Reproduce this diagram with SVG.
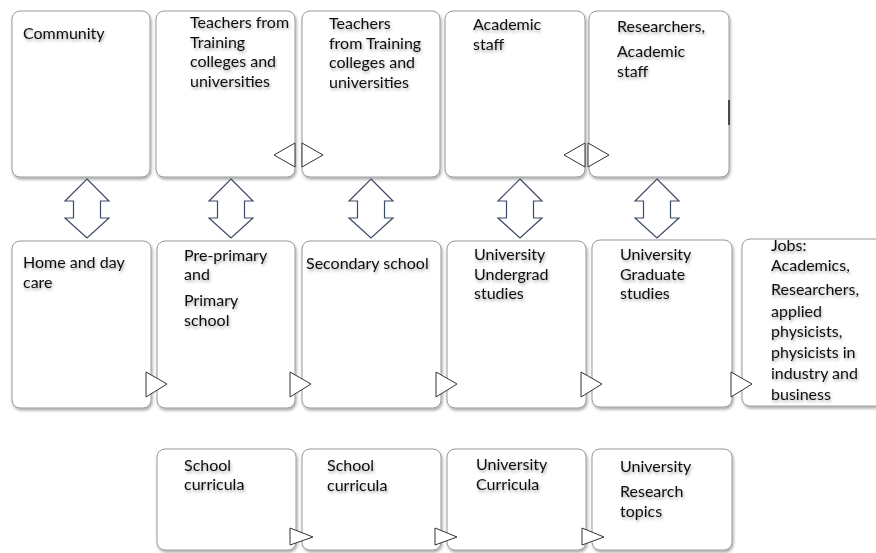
<svg xmlns="http://www.w3.org/2000/svg" width="876" height="553" viewBox="0 0 876 553">
<defs>
<filter id="bs" x="-10%" y="-10%" width="130%" height="130%"><feDropShadow dx="1" dy="2" stdDeviation="1.5" flood-color="#000" flood-opacity="0.35"/></filter>
<filter id="ts" x="-10%" y="-30%" width="130%" height="180%"><feDropShadow dx="1" dy="2" stdDeviation="1.4" flood-color="#000" flood-opacity="0.35"/></filter>
<path id="dbl" d="M0,0 L22,22 L13.5,22 L13.5,39 L22,39 L0,59 L-22,39 L-13.5,39 L-13.5,22 L-22,22 Z"/>
</defs>
<style>
.box{fill:#fff;stroke:#9a9a9a;stroke-width:1;filter:url(#bs)}
text{font-family:Lato,"Open Sans",sans-serif;font-size:16px;fill:#111;filter:url(#ts)}
.dbl{fill:#fff;stroke:#3d4a66;stroke-width:1.2}
.tri{fill:#fff;stroke:#333;stroke-width:1}
</style>
<rect width="876" height="553" fill="#fff"/>
<g id="n-community"><rect class="box" x="12" y="11" width="138" height="166" rx="8"/><text x="23" y="39">Community</text></g>
<g id="n-teachers1"><rect class="box" x="156" y="11" width="139" height="166" rx="8"/><text x="190" y="28">Teachers from</text><text x="190" y="47.5">Training</text><text x="190" y="67">colleges and</text><text x="190" y="86.5">universities</text></g>
<g id="n-teachers2"><rect class="box" x="302" y="11" width="138" height="166" rx="8"/><text x="329" y="29">Teachers</text><text x="329" y="48.5">from Training</text><text x="329" y="68">colleges and</text><text x="329" y="87.5">universities</text></g>
<g id="n-academic"><rect class="box" x="445" y="11" width="140" height="166" rx="8"/><text x="473" y="30">Academic</text><text x="473" y="49.5">staff</text></g>
<g id="n-researchers"><rect class="box" x="589" y="11" width="140" height="166" rx="8"/><text x="617" y="32">Researchers,</text><text x="617" y="57">Academic</text><text x="617" y="76.5">staff</text><line x1="729" y1="100" x2="729" y2="125" stroke="#222" stroke-width="1.5"/></g>
<g id="n-home"><rect class="box" x="12" y="241" width="139" height="167" rx="8"/><text x="23" y="268">Home and day</text><text x="23" y="287.5">care</text></g>
<g id="n-primary"><rect class="box" x="157" y="241" width="138" height="167" rx="8"/><text x="184" y="260.5">Pre-primary</text><text x="184" y="280">and</text><text x="184" y="306">Primary</text><text x="184" y="325.5">school</text></g>
<g id="n-secondary"><rect class="box" x="302" y="241" width="139" height="167" rx="8"/><text x="306" y="269">Secondary school</text></g>
<g id="n-undergrad"><rect class="box" x="447" y="241" width="139" height="167" rx="8"/><text x="474" y="260">University</text><text x="474" y="279.5">Undergrad</text><text x="474" y="299">studies</text></g>
<g id="n-graduate"><rect class="box" x="592" y="240" width="140" height="167" rx="8"/><text x="620" y="260">University</text><text x="620" y="279.5">Graduate</text><text x="620" y="299">studies</text></g>
<g id="n-jobs"><rect class="box" x="742" y="239" width="145" height="167" rx="8"/><text x="771" y="251">Jobs:</text><text x="771" y="271">Academics,</text><text x="771" y="295">Researchers,</text><text x="771" y="317">applied</text><text x="771" y="337">physicists,</text><text x="771" y="358">physicists in</text><text x="771" y="379">industry and</text><text x="771" y="400">business</text></g>
<g id="n-school1"><rect class="box" x="157" y="449" width="139" height="101" rx="8"/><text x="184" y="470.5">School</text><text x="184" y="490">curricula</text></g>
<g id="n-school2"><rect class="box" x="302" y="449" width="139" height="101" rx="8"/><text x="327" y="471">School</text><text x="327" y="490.5">curricula</text></g>
<g id="n-unicurr"><rect class="box" x="447" y="449" width="139" height="101" rx="8"/><text x="476" y="470">University</text><text x="476" y="489.5">Curricula</text></g>
<g id="n-research"><rect class="box" x="592" y="449" width="140" height="101" rx="8"/><text x="620" y="472">University</text><text x="620" y="497">Research</text><text x="620" y="516.5">topics</text></g>
<g id="connectors">
<use href="#dbl" class="dbl" x="87" y="179"/>
<use href="#dbl" class="dbl" x="231" y="179"/>
<use href="#dbl" class="dbl" x="371" y="179"/>
<use href="#dbl" class="dbl" x="520" y="179"/>
<use href="#dbl" class="dbl" x="657" y="179"/>
<polygon class="tri" points="295,143 295,167 274,155"/>
<polygon class="tri" points="302,143 302,167 323,155"/>
<polygon class="tri" points="585,143 585,167 564,155"/>
<polygon class="tri" points="588,143 588,167 609,155"/>
<polygon class="tri" points="146,372 146,397 167,384"/>
<polygon class="tri" points="290,372 290,397 311,384"/>
<polygon class="tri" points="436,372 436,397 457,384"/>
<polygon class="tri" points="581,372 581,397 602,384"/>
<polygon class="tri" points="731,372 731,397 752,384"/>
<polygon class="tri" points="290,528 290,545 313,537"/>
<polygon class="tri" points="435,528 435,545 457,537"/>
<polygon class="tri" points="582,528 582,545 604,537"/>
</g>
</svg>
